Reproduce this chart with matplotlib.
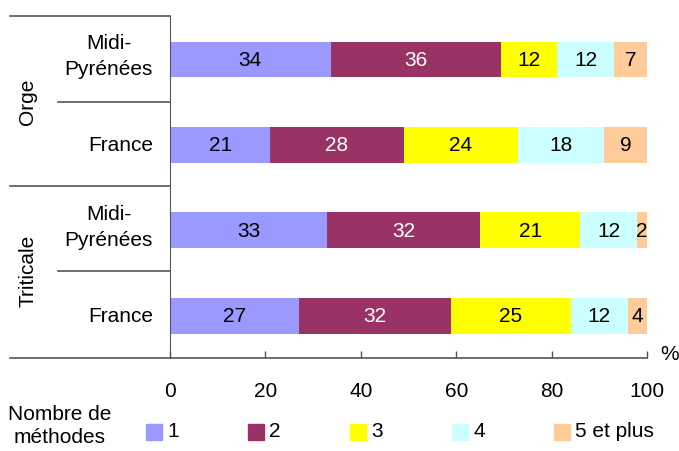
import matplotlib.pyplot as plt
from matplotlib.lines import Line2D
from matplotlib.patches import Rectangle
import numpy as np

plt.rcParams['font.family'] = ['Liberation Sans', 'DejaVu Sans']

# donnees
regions = ["Midi-\nPyrénées", "France", "Midi-\nPyrénées", "France"]
cultures = ["Orge", "Triticale"]
nb_methodes = ["1", "2", "3", "4", "5 et plus"]
m1 = [34, 21, 33, 27]
m2 = [36, 28, 32, 32]
m3 = [12, 24, 21, 25]
m4 = [12, 18, 12, 12]
m5 = [7, 9, 2, 4]
couleurs = ["#9999FF", "#993366", "#FFFF00", "#CCFFFF", "#FFCC99"]
couleurs_texte = ["black", "white", "black", "black", "black"]

W, H = 679, 452
fig = plt.figure(figsize=(W / 100, H / 100), dpi=100)

def fx(px):
    return px / W

def fy(py):
    return 1 - py / H

ax = fig.add_axes([fx(170), fy(358.5), fx(647) - fx(170), fy(17) - fy(358.5)])

series = np.array([m1, m2, m3, m4, m5], dtype=float)
totaux = series.sum(axis=0)
pct = series / totaux * 100  # graphique 100 %
y = np.arange(len(regions))
gauche = np.zeros(len(regions))
for i in range(len(nb_methodes)):
    barres = ax.barh(y, pct[i], left=gauche, height=0.42, color=couleurs[i])
    ax.bar_label(barres, labels=[str(v) for v in series[i].astype(int)],
                 label_type='center', color=couleurs_texte[i], fontsize=15)
    gauche += pct[i]

ax.set_xlim(0, 100)
ax.set_ylim(3.49, -0.51)
ax.set_yticks([])
ax.set_xticks([0, 20, 40, 60, 80, 100])
ax.tick_params(axis='x', direction='in', length=5, width=1, pad=17, labelsize=15, color='#555555')
for s in ['top', 'right', 'bottom']:
    ax.spines[s].set_visible(False)
ax.spines['left'].set_color('#555555')

# lignes du tableau a gauche
lignes = [(10, 170, 17), (58, 170, 103), (10, 170, 187), (58, 170, 272), (10, 647, 358.5)]
for x0, x1, yy in lignes:
    fig.add_artist(Line2D([fx(x0), fx(x1)], [fy(yy), fy(yy)], color='#555555', lw=1.2))

# etiquettes
for k, r in enumerate(regions):
    ypix = ax.transData.transform((0, y[k]))[1]
    decal = 4 if "\n" in r else 0
    fig.text(fx(153), (ypix + decal) / H, r, ha='right', va='center',
             multialignment='center', fontsize=15, linespacing=1.5)
fig.text(fx(28), fy(102), cultures[0], rotation=90, ha='center', va='center', fontsize=15)
fig.text(fx(28), fy(271), cultures[1], rotation=90, ha='center', va='center', fontsize=15)
fig.text(fx(660), fy(355), "%", ha='left', va='center', fontsize=15)

# legende
fig.text(fx(60), fy(426), "Nombre de\nméthodes", ha='center', va='center',
         multialignment='center', fontsize=15, linespacing=1.3)
for i, lab in enumerate(nb_methodes):
    x0 = 146 + i * 102
    fig.add_artist(Rectangle((fx(x0), fy(441)), fx(16), 16 / H, color=couleurs[i],
                             transform=fig.transFigure))
    fig.text(fx(x0 + 21), fy(432), lab, ha='left', va='center', fontsize=15)

fig.savefig("out.png", dpi=100)
